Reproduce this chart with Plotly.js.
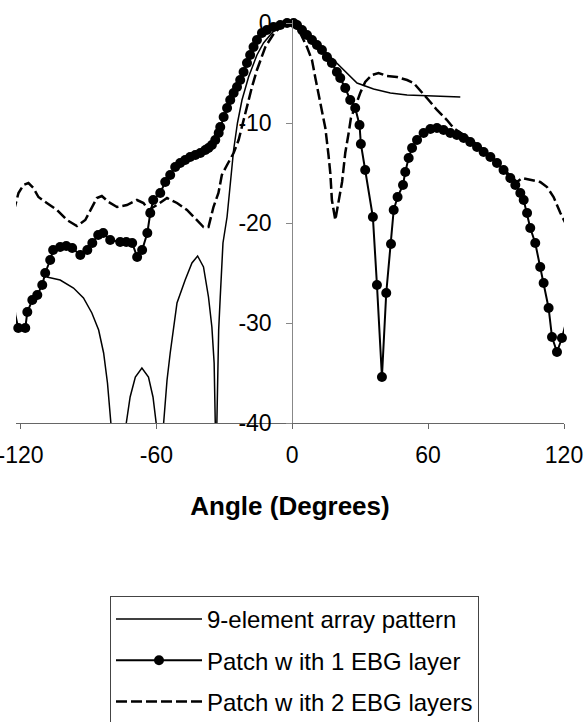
<!DOCTYPE html>
<html>
<head>
<meta charset="utf-8">
<script src="https://cdn.plot.ly/plotly-3.0.1.min.js"></script>
<style>html,body{margin:0;padding:0;background:#fff;}#chart{width:588px;height:722px;}</style>
</head>
<body>
<div id="chart"></div>
<script>
// ---- data (angle in degrees, level in dB) ----
const seriesNames = ["9-element array pattern", "Patch w ith 1 EBG layer", "Patch w ith 2 EBG layers"];

const arrayAngle = [-108.4,-102.5,-96.6,-92.2,-88.5,-85.5,-83.3,-81.6,-80.1,
  null,
  -73.3,-71.6,-69.3,-66.4,-63.5,-61.5,-60.1,
  null,
  -56.8,-55.3,-53.9,-50.9,-47.3,-44.3,-41.8,-39.2,-37.0,-35.5,-34.5,-34.0,
  null,
  -33.3,-32.5,-31.8,-30.6,-28.8,-25.9,-24.2,-22.2,-19.3,-15.6,-12.7,-9.0,-5.3,-0.9,
  3.5,8.0,13.8,18.2,22.7,28.6,35.9,43.3,50.7,59.5,74.2];
const arrayDb = [-25.4,-25.7,-26.5,-27.5,-29.0,-30.7,-33.0,-36.0,-40.0,
  null,
  -40.0,-37.4,-35.4,-34.5,-35.4,-37.4,-40.0,
  null,
  -40.0,-35.7,-33.0,-28.0,-25.7,-24.0,-23.3,-24.4,-27.4,-30.4,-34.0,-40.0,
  null,
  -40.0,-30.7,-27.4,-22.0,-19.4,-12.7,-10.0,-7.7,-5.4,-3.2,-2.0,-1.0,-0.2,0.0,
  -0.5,-1.4,-2.7,-3.7,-4.7,-6.0,-6.6,-7.0,-7.2,-7.3,-7.4];

const ebg1Angle = [-123.4,-122.3,-121.0,-117.9,-117.0,-114.8,-112.6,-110.4,-109.1,-106.9,-105.6,
  -102.5,-99.8,-97.2,-93.6,-90.5,-88.3,-85.7,-83.5,-80.4,-76.0,-73.3,-70.7,-68.5,-66.3,
  -64.0,-62.7,-61.4,-58.3,-56.1,-53.9,-51.7,-49.5,-47.3,-45.1,-42.8,-40.6,-38.4,-37.0,
  -35.5,-34.0,-32.5,-31.8,-30.3,-28.8,-27.4,-25.9,-24.4,-23.0,-21.5,-20.0,-18.6,-17.1,
  -15.6,-13.4,-11.2,-8.3,-5.3,-2.3,0.6,
  2.1,4.3,6.5,8.7,10.9,13.1,15.3,17.5,19.7,21.2,23.4,25.6,27.8,29.7,30.3,32.2,35.6,
  37.4,39.6,41.5,43.6,44.8,46.5,48.9,49.9,51.4,52.9,55.1,58.0,61.0,63.9,66.8,69.8,
  72.7,75.7,78.6,81.6,84.5,87.5,90.4,93.3,96.3,98.5,100.7,102.2,103.7,105.1,107.3,
  109.5,111.0,113.2,114.7,116.9,119.1,120.6];
const ebg1Db = [-26.5,-29.2,-30.5,-30.5,-28.9,-27.7,-27.2,-26.2,-25.0,-23.7,-22.7,
  -22.4,-22.3,-22.5,-23.2,-22.7,-22.0,-21.2,-21.0,-21.7,-21.9,-21.9,-22.0,-23.4,-22.7,
  -21.0,-19.0,-17.7,-17.0,-15.9,-15.2,-14.4,-14.0,-13.7,-13.4,-13.2,-13.0,-12.7,-12.5,
  -12.2,-11.7,-11.0,-10.4,-9.4,-8.5,-7.7,-7.0,-6.4,-5.7,-4.9,-4.0,-3.2,-2.4,
  -1.7,-1.0,-0.7,-0.4,-0.2,0.0,0.0,
  -0.2,-0.7,-1.2,-1.7,-2.2,-2.7,-3.4,-4.0,-4.9,-5.5,-6.5,-7.7,-8.5,-10.2,-12.1,-14.7,-19.4,
  -26.2,-35.4,-27.0,-22.1,-18.7,-17.4,-16.2,-14.9,-13.5,-12.5,-11.7,-11.0,-10.6,-10.5,-10.7,-11.0,
  -11.2,-11.5,-11.9,-12.4,-12.9,-13.4,-14.0,-14.7,-15.5,-16.2,-17.0,-17.7,-19.0,-20.5,-22.0,
  -24.4,-26.0,-28.5,-31.4,-32.9,-31.5,-30.2];

const ebg2Angle = [-123.1,-120.9,-118.7,-116.5,-114.3,-112.1,-108.4,-103.9,-99.5,-95.1,-91.4,
  -89.2,-86.3,-84.1,-81.1,-77.4,-73.0,-68.6,-65.7,-63.5,-59.8,-55.3,-50.9,-46.5,-42.1,
  -39.2,-37.0,-34.8,-32.6,-31.1,-28.8,-25.9,-23.7,-21.5,-19.3,-17.8,-15.6,-13.4,-11.9,
  -8.0,-4.0,0.0,3.5,6.5,8.7,10.2,11.6,13.1,14.6,16.0,16.8,17.5,19.0,
  22.0,23.4,24.9,25.9,27.8,30.0,32.2,35.2,38.1,41.8,46.2,50.7,53.6,56.5,60.2,63.9,
  68.3,71.2,77.2,83.0,88.9,94.8,99.2,101.5,105.1,109.5,112.5,115.4,118.4,120.6,122.0];
const ebg2Db = [-18.9,-17.0,-16.2,-16.0,-16.5,-17.4,-18.0,-18.7,-19.7,-20.3,-19.7,
  -18.7,-17.5,-17.3,-17.9,-18.4,-18.2,-17.7,-18.0,-18.7,-18.2,-17.5,-18.0,-18.7,-19.7,
  -20.4,-20.4,-18.4,-17.0,-15.2,-14.2,-13.0,-11.7,-9.7,-7.7,-6.4,-4.7,-3.4,-2.4,
  -1.0,-0.2,0.0,-1.0,-2.4,-3.7,-5.5,-7.0,-8.7,-10.5,-13.2,-15.0,-17.7,-19.7,
  -15.9,-13.0,-11.0,-9.5,-8.4,-7.0,-5.9,-5.2,-5.0,-5.3,-5.4,-5.7,-6.0,-6.7,-7.7,-8.7,
  -9.7,-10.5,-11.4,-12.4,-13.7,-15.0,-15.9,-15.5,-15.7,-15.9,-16.4,-17.4,-19.0,-20.0,-21.0];

const xTicks = [-120, -60, 0, 60, 120];
const yTicks = [-40, -30, -20, -10, 0];

// ---- chart ----
const FONT = "Arial, 'Liberation Sans', sans-serif";
const xMin = -122, xMax = 120;

const traces = [
  {
    x: ebg2Angle, y: ebg2Db, name: seriesNames[2], type: "scatter", mode: "lines",
    line: {color: "#000", width: 2.5, dash: "11px,4px"},
    legendrank: 3, legendgroup: "c", hoverinfo: "skip"
  },
  {
    x: arrayAngle, y: arrayDb, name: seriesNames[0], type: "scatter", mode: "lines",
    line: {color: "#000", width: 1.5}, connectgaps: false,
    legendrank: 1, legendgroup: "a", hoverinfo: "skip"
  },
  {
    x: ebg1Angle, y: ebg1Db, name: seriesNames[1], type: "scatter", mode: "lines+markers",
    line: {color: "#000", width: 2},
    marker: {color: "#000", size: 10, symbol: "circle"},
    cliponaxis: false,
    legendrank: 2, legendgroup: "b", hoverinfo: "skip"
  }
];

const layout = {
  width: 588, height: 722,
  margin: {l: 16, r: 24, t: 20, b: 299, pad: 0, autoexpand: false},
  paper_bgcolor: "#fff", plot_bgcolor: "#fff",
  font: {family: FONT, color: "#000", size: 23},
  showlegend: true,
  xaxis: {
    range: [xMin, xMax], tickvals: xTicks, ticktext: xTicks.map(String),
    ticks: "outside", ticklen: 5, tickcolor: "#666", tickwidth: 1,
    showline: true, linecolor: "#666", linewidth: 1,
    showgrid: false, zeroline: false, automargin: false,
    ticklabeloverflow: "allow", ticklabelstandoff: 6,
    tickfont: {family: FONT, size: 23, color: "#000"},
    title: {text: "Angle (Degrees)", font: {family: FONT, size: 26, weight: 700, color: "#000"}, standoff: 30}
  },
  yaxis: {
    range: [-40, 0.3], tickvals: yTicks, ticktext: yTicks.map(String),
    anchor: "free", position: (0 - xMin) / (xMax - xMin), side: "left",
    ticks: "outside", ticklen: 6, tickcolor: "#888", tickwidth: 1,
    showline: true, linecolor: "#888", linewidth: 1,
    showgrid: false, zeroline: false, automargin: false,
    ticklabelstandoff: 10,
    tickfont: {family: FONT, size: 23, color: "#000"}
  },
  legend: {
    x: (110 - 16) / 548, y: (423 - 596) / 403, xanchor: "left", yanchor: "top",
    bordercolor: "#444", borderwidth: 1, bgcolor: "#fff",
    font: {family: FONT, size: 24, color: "#000"},
    itemwidth: 86, tracegroupgap: 7, traceorder: "grouped"
  }
};

Plotly.newPlot("chart", traces, layout, {staticPlot: true, displayModeBar: false});
</script>
</body>
</html>
